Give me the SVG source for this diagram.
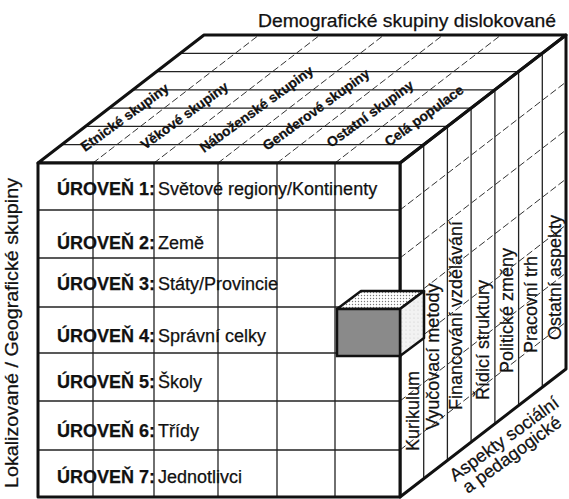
<svg xmlns="http://www.w3.org/2000/svg" width="569" height="499" viewBox="0 0 569 499">
<style>
.thick{fill:none;stroke:#111;stroke-width:3;stroke-linejoin:round}
.grid{fill:none;stroke:#222;stroke-width:1.3}
.dash{fill:none;stroke:#333;stroke-width:1;stroke-dasharray:7 3}
text{font-family:"Liberation Sans",Arial,sans-serif;fill:#111;stroke:#111;stroke-width:0.25}
.lvl{font-size:18px;font-weight:bold}
.lbl{font-size:18px}
.top{font-size:13.8px;font-weight:bold}
.side{font-size:18px}
</style>
<defs>
<pattern id="dots" width="3" height="3" patternUnits="userSpaceOnUse">
<rect width="3" height="3" fill="#fff"/>
<circle cx="1.5" cy="1.5" r="0.7" fill="#777"/>
</pattern>
<pattern id="lightdots" width="4" height="4" patternUnits="userSpaceOnUse">
<rect width="4" height="4" fill="#f2f2f2"/>
<circle cx="2" cy="2" r="0.6" fill="#ccc"/>
</pattern>
</defs>
<rect width="569" height="499" fill="#fff"/>

<g id="top-face">
<polygon points="38,163 204,35 566,35 400,163" fill="#fff"/>
<g class="grid">
<line x1="61.7" y1="144.7" x2="423.7" y2="144.7"/>
<line x1="85.4" y1="126.4" x2="447.4" y2="126.4"/>
<line x1="109.1" y1="108.1" x2="471.1" y2="108.1"/>
<line x1="132.9" y1="89.9" x2="494.9" y2="89.9"/>
<line x1="156.6" y1="71.6" x2="518.6" y2="71.6"/>
<line x1="180.3" y1="53.3" x2="542.3" y2="53.3"/>
</g>
<g class="dash">
<line x1="93" y1="163" x2="259" y2="35"/>
<line x1="154" y1="163" x2="320" y2="35"/>
<line x1="218" y1="163" x2="384" y2="35"/>
<line x1="277" y1="163" x2="443" y2="35"/>
<line x1="335" y1="163" x2="501" y2="35"/>
</g>
<polygon class="thick" points="38,163 204,35 566,35 400,163"/>
</g>

<g id="right-face">
<g class="grid">
<line x1="423.7" y1="144.7" x2="423.7" y2="478.7"/>
<line x1="447.4" y1="126.4" x2="447.4" y2="460.4"/>
<line x1="471.1" y1="108.1" x2="471.1" y2="442.1"/>
<line x1="494.9" y1="89.9" x2="494.9" y2="423.9"/>
<line x1="518.6" y1="71.6" x2="518.6" y2="405.6"/>
<line x1="542.3" y1="53.3" x2="542.3" y2="387.3"/>
</g>
<g class="dash">
<line x1="400" y1="210" x2="566" y2="82"/>
<line x1="400" y1="258" x2="566" y2="130"/>
<line x1="400" y1="307" x2="566" y2="179"/>
<line x1="400" y1="353" x2="566" y2="225"/>
<line x1="400" y1="401" x2="566" y2="273"/>
<line x1="400" y1="450" x2="566" y2="322"/>
</g>
<polygon class="thick" points="400,163 566,35 566,369 400,497"/>
</g>

<g id="front-face">
<rect x="38" y="163" width="362" height="334" fill="#fff"/>
<g class="grid">
<line x1="93" y1="163" x2="93" y2="497"/>
<line x1="154" y1="163" x2="154" y2="497"/>
<line x1="218" y1="163" x2="218" y2="497"/>
<line x1="277" y1="163" x2="277" y2="497"/>
<line x1="335" y1="163" x2="335" y2="497"/>
<line x1="38" y1="210" x2="400" y2="210"/>
<line x1="38" y1="258" x2="400" y2="258"/>
<line x1="38" y1="307" x2="400" y2="307"/>
<line x1="38" y1="353" x2="400" y2="353"/>
<line x1="38" y1="401" x2="400" y2="401"/>
<line x1="38" y1="450" x2="400" y2="450"/>
</g>
<rect class="thick" x="38" y="163" width="362" height="334"/>
</g>

<g id="small-cube">
<polygon points="337,309 361,291 424,291 400,309" fill="url(#dots)" stroke="#111" stroke-width="2.5" stroke-linejoin="round"/>
<polygon points="400,309 424,291 424,338 400,356" fill="url(#lightdots)" stroke="#111" stroke-width="2.5" stroke-linejoin="round"/>
<rect x="337" y="309" width="63" height="47" fill="#8a8a8a" stroke="#111" stroke-width="2.5"/>
</g>

<g id="levels">
<text class="lvl" x="57" y="195">ÚROVEŇ 1:</text><text class="lbl" x="158" y="195">Světové regiony/Kontinenty</text>
<text class="lvl" x="57" y="249">ÚROVEŇ 2:</text><text class="lbl" x="158" y="249">Země</text>
<text class="lvl" x="57" y="290">ÚROVEŇ 3:</text><text class="lbl" x="158" y="290">Státy/Provincie</text>
<text class="lvl" x="57" y="342">ÚROVEŇ 4:</text><text class="lbl" x="158" y="342">Správní celky</text>
<text class="lvl" x="57" y="388">ÚROVEŇ 5:</text><text class="lbl" x="158" y="388">Školy</text>
<text class="lvl" x="57" y="437">ÚROVEŇ 6:</text><text class="lbl" x="158" y="437">Třídy</text>
<text class="lvl" x="57" y="483">ÚROVEŇ 7:</text><text class="lbl" x="158" y="483">Jednotlivci</text>
</g>

<g id="demographic-labels">
<text class="top" transform="translate(85,152) rotate(-36)">Etnické skupiny</text>
<text class="top" transform="translate(145,150) rotate(-36)">Věkové skupiny</text>
<text class="top" transform="translate(204,153) rotate(-36)">Náboženské skupiny</text>
<text class="top" transform="translate(267,151) rotate(-36)">Genderové skupiny</text>
<text class="top" transform="translate(331,148) rotate(-36)">Ostatní skupiny</text>
<text class="top" transform="translate(389,147) rotate(-36)">Celá populace</text>
</g>

<g id="aspect-labels">
<text class="side" transform="translate(418.5,451) rotate(-90)">Kurikulum</text>
<text class="side" transform="translate(439,430) rotate(-90)">Vyučovací metody</text>
<text class="side" transform="translate(462,410) rotate(-90)">Financování vzdělávání</text>
<text class="side" transform="translate(489,400) rotate(-90)">Řídicí struktury</text>
<text class="side" transform="translate(513,373) rotate(-90)">Politické změny</text>
<text class="side" transform="translate(537,353) rotate(-90)">Pracovní trh</text>
<text class="side" transform="translate(561,340) rotate(-90)">Ostatní aspekty</text>
</g>

<g id="axis-titles">
<text class="lbl" x="258" y="27" textLength="298" lengthAdjust="spacingAndGlyphs">Demografické skupiny dislokované</text>
<text class="lbl" transform="translate(18,333) rotate(-90)" text-anchor="middle" textLength="310" lengthAdjust="spacingAndGlyphs">Lokalizované / Geografické skupiny</text>
<text class="lbl" transform="translate(455,482) rotate(-36)">Aspekty sociální</text>
<text class="lbl" transform="translate(468,494) rotate(-36)">a pedagogické</text>
</g>
</svg>
